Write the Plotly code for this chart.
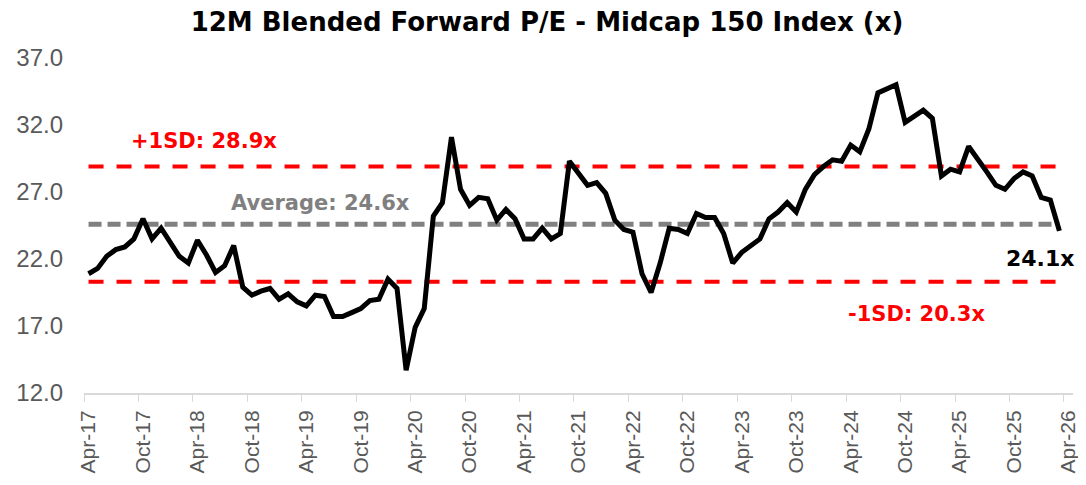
import pandas as pd
import plotly.graph_objects as go

# Monthly categories Apr-17 .. Apr-26 (last category has no data)
months = [d.strftime("%b-%y") for d in pd.date_range("2017-04-01", "2026-04-01", freq="MS")]

pe_values = [
    20.9, 21.3, 22.2, 22.7, 22.9, 23.5, 25.0, 23.5, 24.3, 23.3, 22.2, 21.7,
    23.4, 22.3, 21.0, 21.5, 23.0, 19.9, 19.3, 19.6, 19.8, 19.0, 19.4, 18.8,
    18.5, 19.3, 19.2, 17.7, 17.7, 18.0, 18.3, 18.9, 19.0, 20.5, 19.8, 13.7,
    16.9, 18.3, 25.2, 26.2, 31.1, 27.2, 26.0, 26.6, 26.5, 24.9, 25.7, 25.0,
    23.5, 23.5, 24.3, 23.5, 23.9, 29.3, 28.4, 27.5, 27.7, 26.9, 24.9, 24.2,
    24.0, 20.9, 19.5, 21.7, 24.3, 24.2, 23.9, 25.4, 25.1, 25.1, 23.9, 21.7,
    22.5, 23.0, 23.5, 25.0, 25.5, 26.2, 25.5, 27.2, 28.3, 28.9, 29.4, 29.3,
    30.5, 30.0, 31.7, 34.4, 34.7, 35.0, 32.2, 32.7, 33.1, 32.5, 28.2, 28.7,
    28.5, 30.4, 29.5, 28.5, 27.5, 27.2, 28.0, 28.5, 28.2, 26.6, 26.4, 24.1,
]
average = 24.6
plus_1sd = 28.9
minus_1sd = 20.3

y_ticks = [12, 17, 22, 27, 32, 37]

data_months = months[:len(pe_values)]
n = len(pe_values)

fig = go.Figure()
fig.add_trace(go.Scatter(x=data_months, y=[plus_1sd] * n, mode="lines",
                         line=dict(color="#FF0000", width=4, dash="15px,13px"),
                         hoverinfo="skip", showlegend=False))
fig.add_trace(go.Scatter(x=data_months, y=[minus_1sd] * n, mode="lines",
                         line=dict(color="#FF0000", width=4, dash="15px,13px"),
                         hoverinfo="skip", showlegend=False))
fig.add_trace(go.Scatter(x=data_months, y=[average] * n, mode="lines",
                         line=dict(color="#808080", width=5, dash="13px,6px"),
                         hoverinfo="skip", showlegend=False))
fig.add_trace(go.Scatter(x=data_months, y=pe_values, mode="lines",
                         line=dict(color="#000000", width=5),
                         showlegend=False))

bold = "DejaVu Sans"
annos = [
    dict(text="+1SD: 28.9x", x=12.7, y=30.77, color="#FF0000", size=21),
    dict(text="Average: 24.6x", x=25.6, y=26.19, color="#808080", size=21),
    dict(text="-1SD: 20.3x", x=91.3, y=17.93, color="#FF0000", size=21),
    dict(text="24.1x", x=104.9, y=22.06, color="#000000", size=22),
]
for a in annos:
    fig.add_annotation(x=a["x"], y=a["y"], xref="x", yref="y", text=a["text"],
                       showarrow=False, xanchor="center", yanchor="middle",
                       font=dict(family=bold, size=a["size"], color=a["color"], weight="bold"))

# page body has an 8px margin, so the figure is sized/offset to compensate
fig.update_layout(
    width=1078, height=477,
    margin=dict(l=76, r=13, t=50, b=92),
    paper_bgcolor="white", plot_bgcolor="white",
    title=dict(text="12M Blended Forward P/E - Midcap 150 Index (x)",
               x=0.5, xref="container", xanchor="center", y=1 - 14 / 477, yref="container", yanchor="middle",
               font=dict(family="DejaVu Sans", size=26, color="#000000", weight="bold")),
    xaxis=dict(type="category", categoryorder="array", categoryarray=months,
               range=[-0.5, len(months) - 0.5],
               tickmode="linear", tick0=0, dtick=6, tickson="boundaries",
               ticks="outside", ticklen=7, tickcolor="#D9D9D9", tickwidth=1,
               showline=True, linecolor="#D9D9D9", linewidth=2,
               showgrid=False, zeroline=False, tickangle=-90, automargin=False,
               ticklabelstandoff=7,
               tickfont=dict(family="Liberation Sans", size=21, color="#595959")),
    yaxis=dict(range=[12, 37], tickvals=y_ticks, tickformat=".1f",
               showgrid=False, zeroline=False, showline=False, ticks="",
               ticklabelstandoff=20, automargin=False,
               tickfont=dict(family="Liberation Sans", size=24, color="#595959")),
)

fig.write_html("out.html")
